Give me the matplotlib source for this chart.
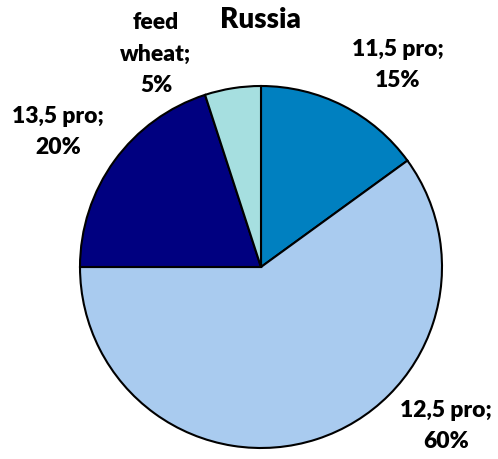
import matplotlib
matplotlib.use("Agg")
import matplotlib.pyplot as plt

categories = ["11,5 pro", "12,5 pro", "13,5 pro", "feed\nwheat"]
shares = [15, 60, 20, 5]
colors = ["#0080C0", "#A9CBEF", "#000080", "#A6DFE0"]
title = "Russia"

plt.rcParams["font.family"] = ["Lato", "DejaVu Sans"]

W, H = 498, 460
fig = plt.figure(figsize=(W / 100, H / 100), dpi=100)
cx, cy, r = 261, 268, 181
ax = fig.add_axes([(cx - r) / W, (H - cy - r) / H, 2 * r / W, 2 * r / H])
ax.pie(shares, colors=colors, startangle=90, counterclock=False,
       radius=1.0, wedgeprops=dict(edgecolor="black", linewidth=1.5))
ax.set_xlim(-1, 1)
ax.set_ylim(-1, 1)
ax.set_aspect("equal")
ax.axis("off")

label_pos = [(398, 65), (446, 426), (58, 132), (156, 54)]
for name, val, (px, py) in zip(categories, shares, label_pos):
    fig.text(px / W, 1 - py / H, f"{name};\n{val}%", ha="center", va="center",
             fontsize=16.5, fontweight="heavy", linespacing=1.6)

fig.text(260 / W, 1 - 20 / H, title, ha="center", va="center",
         fontsize=20, fontweight="heavy")

fig.savefig("out.png", dpi=100)
